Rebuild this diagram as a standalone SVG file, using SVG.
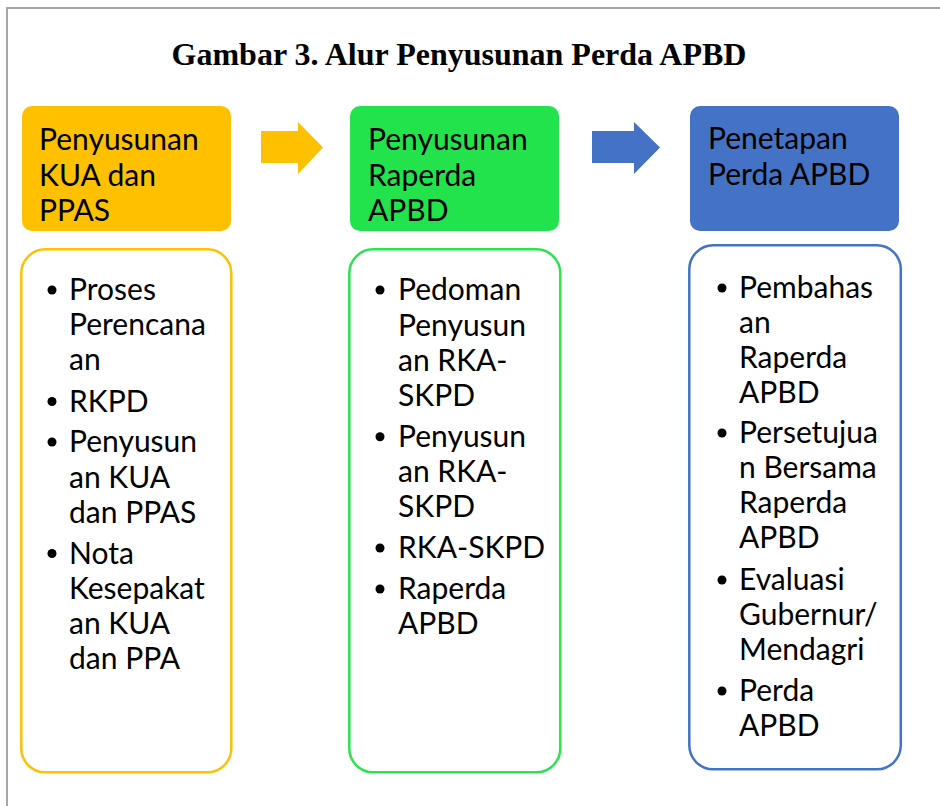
<svg xmlns="http://www.w3.org/2000/svg" width="940" height="806" viewBox="0 0 940 806">
<style>
.title{font-family:"Liberation Serif","Times New Roman",serif;font-weight:bold;font-size:32px;fill:#000}
.hd{font-family:Lato,"Liberation Sans",sans-serif;font-size:30px;fill:#000}
.bd{font-family:Lato,"Liberation Sans",sans-serif;font-size:30px;fill:#000}
.frame{fill:none;stroke:#A6A6A6;stroke-width:2}
.y{fill:#FFC000}
.g{fill:#22E34B}
.b{fill:#4472C4}
.ys{fill:#fff;stroke:#FFC000;stroke-width:2.5}
.gs{fill:#fff;stroke:#2BE24F;stroke-width:2.5}
.bs{fill:#fff;stroke:#4472C4;stroke-width:2.5}
</style>
<rect x="0" y="0" width="940" height="806" fill="#fff"/>
<rect class="frame" x="7" y="8" width="960" height="830"/>
<text class="title" x="459" y="65" text-anchor="middle">Gambar 3. Alur Penyusunan Perda APBD</text>

<g id="connectors">
<path class="y" d="M261 131 H298 V122 L323 147.5 L298 174 V163 H261 Z"/>
<path class="b" d="M592 131 H634 V122 L660 147.5 L634 174 V163 H592 Z"/>
</g>

<g id="head1">
<rect class="y" x="22" y="106" width="209" height="125" rx="10"/>
<text class="hd" x="39"><tspan x="39" y="150">Penyusunan</tspan><tspan x="39" y="185.5">KUA dan</tspan><tspan x="39" y="221">PPAS</tspan></text>
</g>
<g id="head2">
<rect class="g" x="350" y="106" width="209" height="125" rx="10"/>
<text class="hd"><tspan x="368" y="150">Penyusunan</tspan><tspan x="368" y="185.5">Raperda</tspan><tspan x="368" y="221">APBD</tspan></text>
</g>
<g id="head3">
<rect class="b" x="690" y="106" width="209" height="125" rx="10"/>
<text class="hd"><tspan x="708" y="149">Penetapan</tspan><tspan x="708" y="184.5">Perda APBD</tspan></text>
</g>

<g id="list1">
<rect class="ys" x="21.3" y="249.3" width="210" height="523" rx="24"/>
<circle cx="52" cy="290" r="4.5"/>
<circle cx="52" cy="401.5" r="4.5"/>
<circle cx="52" cy="442" r="4.5"/>
<circle cx="52" cy="553.5" r="4.5"/>
<text class="bd"><tspan x="69" y="300">Proses</tspan><tspan x="69" y="335">Perencana</tspan><tspan x="69" y="370">an</tspan><tspan x="69" y="411.5">RKPD</tspan><tspan x="69" y="452">Penyusun</tspan><tspan x="69" y="487.5">an KUA</tspan><tspan x="69" y="523">dan PPAS</tspan><tspan x="69" y="563.5">Nota</tspan><tspan x="69" y="599">Kesepakat</tspan><tspan x="69" y="634">an KUA</tspan><tspan x="69" y="669">dan PPA</tspan></text>
</g>
<g id="list2">
<rect class="gs" x="349.3" y="249.3" width="211" height="523" rx="24"/>
<circle cx="380" cy="290" r="4.5"/>
<circle cx="380" cy="436.7" r="4.5"/>
<circle cx="380" cy="548" r="4.5"/>
<circle cx="380" cy="589" r="4.5"/>
<text class="bd"><tspan x="398" y="300">Pedoman</tspan><tspan x="398" y="335.5">Penyusun</tspan><tspan x="398" y="370.7">an RKA-</tspan><tspan x="398" y="405.7">SKPD</tspan><tspan x="398" y="446.7">Penyusun</tspan><tspan x="398" y="481.7">an RKA-</tspan><tspan x="398" y="516.7">SKPD</tspan><tspan x="398" y="558">RKA-SKPD</tspan><tspan x="398" y="599">Raperda</tspan><tspan x="398" y="634">APBD</tspan></text>
</g>
<g id="list3">
<rect class="bs" x="689.3" y="245.3" width="211.5" height="524" rx="24"/>
<circle cx="722" cy="288" r="4.5"/>
<circle cx="722" cy="433" r="4.5"/>
<circle cx="722" cy="580" r="4.5"/>
<circle cx="722" cy="691" r="4.5"/>
<text class="bd"><tspan x="739" y="298">Pembahas</tspan><tspan x="739" y="333">an</tspan><tspan x="739" y="368">Raperda</tspan><tspan x="739" y="403">APBD</tspan><tspan x="739" y="443">Persetujua</tspan><tspan x="739" y="478">n Bersama</tspan><tspan x="739" y="513">Raperda</tspan><tspan x="739" y="548">APBD</tspan><tspan x="739" y="590">Evaluasi</tspan><tspan x="739" y="625">Gubernur/</tspan><tspan x="739" y="660">Mendagri</tspan><tspan x="739" y="701">Perda</tspan><tspan x="739" y="736">APBD</tspan></text>
</g>
</svg>
